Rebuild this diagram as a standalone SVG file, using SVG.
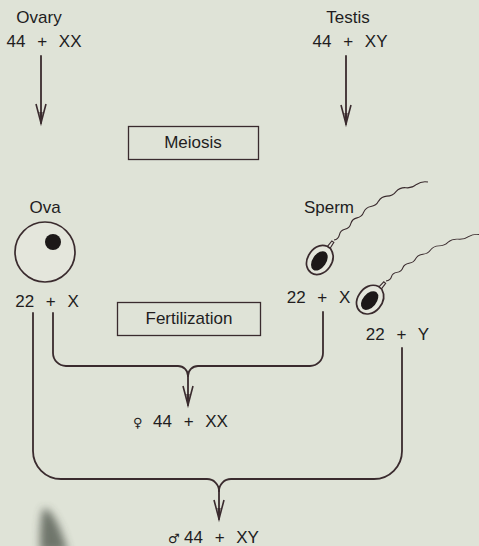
<svg xmlns="http://www.w3.org/2000/svg" width="479" height="546" viewBox="0 0 479 546">
  <defs>
    <style>
      .t { font-family: "Liberation Sans", Arial, sans-serif; font-size: 17px; fill: #221d1e; }
      .c { text-anchor: middle; }
      .w { word-spacing: 7px; }
      .sym { font-family: "DejaVu Sans", sans-serif; font-size: 13px; fill: #221d1e; }
      .ln { fill: none; stroke: #3a2b2e; stroke-width: 1.8; stroke-linecap: round; stroke-linejoin: round; }
      .box { fill: none; stroke: #3a2b2e; stroke-width: 1.3; }
      .ring { fill: #e4e6dc; stroke: #3a2b2e; stroke-width: 1.7; }
      .tail { fill: none; stroke: #3a2b2e; stroke-width: 1.1; }
      .ink { fill: #1c1818; }
    </style>
    <marker id="arrow" markerUnits="userSpaceOnUse" orient="auto" refX="0" refY="0" overflow="visible">
      <path d="M-19,-5 L0,0 L-19,5" fill="none" stroke="#3a2b2e" stroke-width="1.6"/>
      <path d="M-11,-1.6 L0,0 L-11,1.6 Z" fill="#3a2b2e"/>
    </marker>
    <!-- wavy flagellum, starting at the neck of the head -->
    <path id="flagellum" d="M334,240 Q338.4,239.2 339.4,234.8 Q340.4,230.3 344.9,229.3 Q349.6,228.3 350.8,223.6 Q352.2,218.9 357,217.85 Q362,216.9 363.7,212.1 Q365.8,207.3 370.9,206.5 Q376.2,205.9 378.6,201.1 Q381.5,196.5 386.9,196.15 Q392.6,196.1 396,191.6 Q400,187.3 405.8,187.7 Q411.9,188.5 416.5,184.45 Q421.7,180.8 428,182"/>
    <!-- sperm head, neck at origin, axis along +y -->
    <g id="head">
      <path d="M-1.6,9 L-1.2,2 L1.2,2 L1.6,9" fill="#e4e6dc" stroke="#3a2b2e" stroke-width="1.1"/>
      <path class="ring" d="M-2,9 C-10,11 -13,19 -12,27 C-11,36 -5,40 0,40 C6,40 12,34 12,25 C12,16 7,11 2,9 Z"/>
      <ellipse class="ink" cx="0" cy="25.5" rx="6.8" ry="10.8"/>
    </g>
    <filter id="soft" x="-100%" y="-100%" width="300%" height="300%">
      <feGaussianBlur stdDeviation="4.5"/>
    </filter>
  </defs>

  <rect width="479" height="546" fill="#dfe3d7"/>

  <!-- dark smudge near the lower left -->
  <path d="M44,508 C52,510 60,525 68,552 L40,552 C40,535 40,515 44,508 Z" fill="#3f463d" opacity="0.7" filter="url(#soft)"/>

  <g id="ovary">
    <text class="t c" x="39" y="23">Ovary</text>
    <text class="t c w" x="44" y="47">44 + XX</text>
  </g>

  <g id="testis">
    <text class="t c" x="348" y="23">Testis</text>
    <text class="t c w" x="350" y="47">44 + XY</text>
  </g>

  <g id="meiosis">
    <rect class="box" x="128.5" y="126.5" width="130" height="33"/>
    <text class="t c" x="193" y="148">Meiosis</text>
  </g>

  <g id="ova">
    <text class="t c" x="45" y="213">Ova</text>
    <circle class="ring" cx="45" cy="252" r="30"/>
    <circle class="ink" cx="53" cy="242" r="8"/>
    <text class="t c w" x="47" y="307">22 + X</text>
  </g>

  <g id="sperm">
    <text class="t c" x="329" y="213">Sperm</text>
    <use href="#flagellum" class="tail"/>
    <use href="#head" transform="translate(334 240) rotate(35)"/>
    <use href="#flagellum" class="tail" vector-effect="non-scaling-stroke" transform="translate(386 281) scale(1 0.8) translate(-334 -240)"/>
    <use href="#head" transform="translate(386 281) rotate(40)"/>
    <text class="t c w" x="318.5" y="303">22 + X</text>
    <text class="t c w" x="397.5" y="340">22 + Y</text>
  </g>

  <g id="fertilization">
    <rect class="box" x="117.5" y="302.5" width="143" height="33"/>
    <text class="t c" x="189" y="324">Fertilization</text>
  </g>

  <g id="female">
    <text class="sym" x="133" y="427">♀</text>
    <text class="t w" x="153" y="427">44 + XX</text>
  </g>

  <g id="male">
    <text class="sym" x="168" y="543">♂</text>
    <text class="t w" x="184" y="543">44 + XY</text>
  </g>

  <g id="connectors">
    <path class="ln" d="M41,56 V123" marker-end="url(#arrow)"/>
    <path class="ln" d="M346,56 V124" marker-end="url(#arrow)"/>
    <!-- inner brace: X egg + X sperm -->
    <path class="ln" d="M53,313 V353 A13,13 0 0 0 66,366 H178 A10,10 0 0 1 188,376"/>
    <path class="ln" d="M323,312 V353 A13,13 0 0 1 310,366 H198 A10,10 0 0 0 188,376"/>
    <path class="ln" d="M188,376 V405" marker-end="url(#arrow)"/>
    <!-- outer brace: X egg + Y sperm -->
    <path class="ln" d="M33,313 V451 A28,28 0 0 0 61,479 H207 A12,12 0 0 1 219,491"/>
    <path class="ln" d="M402,348 V451 A28,28 0 0 1 374,479 H231 A12,12 0 0 0 219,491"/>
    <path class="ln" d="M219,491 V519" marker-end="url(#arrow)"/>
  </g>
</svg>
